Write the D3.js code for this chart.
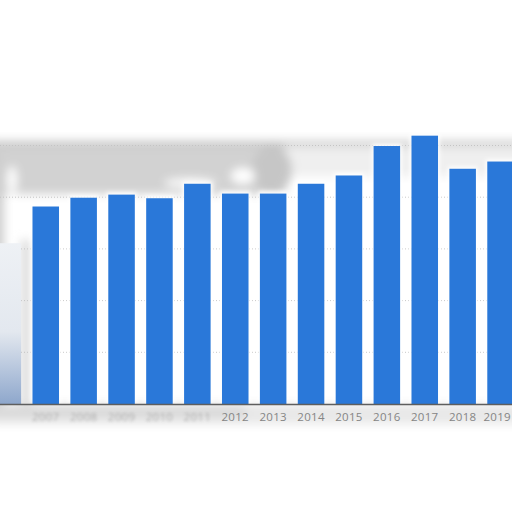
<!DOCTYPE html>
<html>
<head>
<meta charset="utf-8">
<script src="https://cdn.jsdelivr.net/npm/d3@7"></script>
<style>
  html, body { margin: 0; padding: 0; background: #fff; }
  svg { display: block; }
  .tick-label { font-family: "Open Sans", "DejaVu Sans", sans-serif; font-size: 11.5px; fill: #858585; letter-spacing: 0.3px; }
</style>
</head>
<body>
<div id="chart"></div>
<script>
// chart data
var years = ["2006", "2007", "2008", "2009", "2010", "2011", "2012",
             "2013", "2014", "2015", "2016", "2017", "2018", "2019"];
var values = [311, 382, 399, 405, 398, 426, 407, 407, 426, 442, 499, 519, 455, 469];
var gridTicks = [100, 200, 300, 400, 500];
// 2006 label is cut away in the source, 2007-2011 are washed out
var labelYears = years.slice(1);
var blurredYears = ["2007", "2008", "2009", "2010", "2011"];

var width = 512, height = 512;

var svg = d3.select("#chart").append("svg")
    .attr("width", width)
    .attr("height", height);

var defs = svg.append("defs");
defs.append("filter").attr("id", "soft")
    .attr("x", "-20%").attr("y", "-20%").attr("width", "140%").attr("height", "140%")
  .append("feGaussianBlur").attr("stdDeviation", 5);
defs.append("filter").attr("id", "textblur")
  .append("feGaussianBlur").attr("stdDeviation", 1.5);
defs.append("filter").attr("id", "halo")
  .append("feGaussianBlur").attr("stdDeviation", 2);

var fade = defs.append("linearGradient").attr("id", "fade")
    .attr("x1", 0).attr("y1", 0).attr("x2", 0).attr("y2", 1);
fade.append("stop").attr("offset", "0%").attr("stop-color", "#eef1f5");
fade.append("stop").attr("offset", "55%").attr("stop-color", "#e3e8ef");
fade.append("stop").attr("offset", "100%").attr("stop-color", "#8ea7cc");

var x = d3.scaleBand()
    .domain(years)
    .range([-11.1, 519.5])
    .paddingInner(0.3)
    .paddingOuter(0.15);

var y = d3.scaleLinear()
    .domain([0, 600])
    .range([404, 93.8]);

// smudged background (the source picture is partly washed out)
var smudge = svg.append("g").attr("filter", "url(#soft)");
smudge.append("rect").attr("x", -10).attr("y", 141).attr("width", 540).attr("height", 6).attr("fill", "#c4c4c4");
smudge.append("rect").attr("x", -10).attr("y", 146).attr("width", 295).attr("height", 48).attr("fill", "#d2d2d2");
smudge.append("rect").attr("x", 285).attr("y", 146).attr("width", 245).attr("height", 30).attr("fill", "#efefef");
smudge.append("ellipse").attr("cx", 272).attr("cy", 170).attr("rx", 20).attr("ry", 24).attr("fill", "#c6c6c6");
smudge.append("ellipse").attr("cx", 190).attr("cy", 183).attr("rx", 26).attr("ry", 5).attr("fill", "#fafafa");
smudge.append("ellipse").attr("cx", 243).attr("cy", 176).attr("rx", 12).attr("ry", 8).attr("fill", "#ffffff");
smudge.append("ellipse").attr("cx", 12).attr("cy", 180).attr("rx", 5).attr("ry", 14).attr("fill", "#ffffff");
smudge.append("rect").attr("x", -10).attr("y", 150).attr("width", 14).attr("height", 270).attr("fill", "#cfcfcf");
smudge.append("rect").attr("x", 20).attr("y", 240).attr("width", 12).attr("height", 165).attr("fill", "#e0e0e0");
smudge.append("rect").attr("x", -10).attr("y", 404).attr("width", 540).attr("height", 20).attr("fill", "#e8e8e8");
smudge.append("rect").attr("x", -10).attr("y", 405).attr("width", 255).attr("height", 13).attr("fill", "#d9d9d9");

// dotted gridlines
svg.append("g")
  .selectAll("line")
  .data(gridTicks)
  .enter()
  .append("line")
    .attr("x1", 0)
    .attr("x2", width)
    .attr("y1", function(d) { return y(d); })
    .attr("y2", function(d) { return y(d); })
    .attr("stroke", "#c4c4c4")
    .attr("stroke-width", 1)
    .attr("stroke-dasharray", "1,2");

// white halo around the bar tops
svg.append("g").attr("filter", "url(#halo)")
  .selectAll("rect")
  .data(values.slice(1))
  .enter()
  .append("rect")
    .attr("x", function(d, i) { return x(years[i + 1]) - 1.5; })
    .attr("y", function(d) { return y(d) - 2; })
    .attr("width", x.bandwidth() + 3)
    .attr("height", function(d) { return 404 - y(d); })
    .attr("fill", "#ffffff");

// bars
svg.append("g")
  .selectAll("rect")
  .data(values)
  .enter()
  .append("rect")
    .attr("x", function(d, i) { return x(years[i]); })
    .attr("y", function(d) { return y(d); })
    .attr("width", x.bandwidth())
    .attr("height", function(d) { return 404 - y(d); })
    .attr("fill", function(d, i) { return i === 0 ? "url(#fade)" : "#2a78d9"; });

// baseline
svg.append("line")
    .attr("x1", 0).attr("x2", width)
    .attr("y1", 404.5).attr("y2", 404.5)
    .attr("stroke", "#5e5e5e")
    .attr("stroke-width", 1.5);

// year labels (last one pinned to the right edge so it stays whole)
var lastYear = labelYears[labelYears.length - 1];
svg.append("g")
  .selectAll("text")
  .data(labelYears)
  .enter()
  .append("text")
    .attr("class", "tick-label")
    .attr("x", function(d) { return d === lastYear ? width - 1 : x(d) + x.bandwidth() / 2; })
    .attr("y", 421)
    .attr("text-anchor", function(d) { return d === lastYear ? "end" : "middle"; })
    .attr("filter", function(d) { return blurredYears.indexOf(d) >= 0 ? "url(#textblur)" : null; })
    .attr("opacity", function(d) { return blurredYears.indexOf(d) >= 0 ? 0.55 : 1; })
    .text(function(d) { return d; });
</script>
</body>
</html>
